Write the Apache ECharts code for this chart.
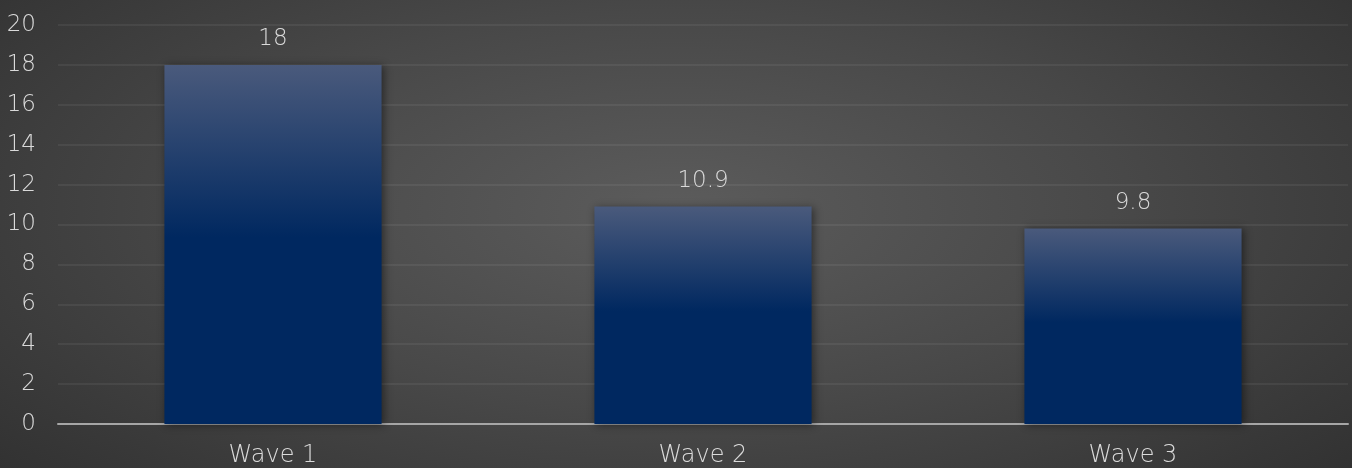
<!DOCTYPE html>
<html>
<head>
<meta charset="utf-8">
<script src="https://cdn.jsdelivr.net/npm/echarts@6/dist/echarts.min.js"></script>
<style>
  html, body { margin: 0; padding: 0; }
  #chart {
    width: 1352px;
    height: 468px;
    background: radial-gradient(ellipse 75% 95% at 50% 45%, #5c5c5c 0%, #484848 45%, #2c2c2c 100%);
  }
</style>
</head>
<body>
<div id="chart"></div>
<script>
const categories = ['Wave 1', 'Wave 2', 'Wave 3'];
const values = [18, 10.9, 9.8];

const FONT = '"DejaVu Sans", sans-serif';
const TEXT = '#dadada';

const chart = echarts.init(document.getElementById('chart'));
chart.setOption({
  backgroundColor: 'transparent',
  animation: false,
  grid: { top: 25, bottom: 43, left: 58, right: 4, containLabel: false },
  xAxis: {
    type: 'category',
    data: categories,
    axisLine: { lineStyle: { color: '#a6a6a6', width: 2 } },
    axisTick: { show: false },
    axisLabel: { fontSize: 24, color: TEXT, fontFamily: FONT, fontWeight: 300, margin: 20 },
  },
  yAxis: {
    type: 'value',
    min: 0,
    max: 20,
    interval: 2,
    axisLine: { show: false },
    axisTick: { show: false },
    axisLabel: { fontSize: 23, color: TEXT, fontFamily: FONT, fontWeight: 300, margin: 22 },
    splitLine: { lineStyle: { color: 'rgba(255,255,255,0.06)', width: 2 } },
  },
  series: [
    {
      type: 'bar',
      data: values,
      barWidth: '50.5%',
      itemStyle: {
        color: {
          type: 'linear', x: 0, y: 0, x2: 0, y2: 1,
          colorStops: [
            { offset: 0, color: '#4a5a7c' },
            { offset: 0.48, color: '#002860' },
            { offset: 1, color: '#002860' },
          ],
        },
        shadowBlur: 8,
        shadowColor: 'rgba(0,0,0,0.45)',
        shadowOffsetX: 2,
        shadowOffsetY: 1,
      },
      label: {
        show: true,
        position: 'top',
        distance: 14,
        fontSize: 23,
        color: TEXT,
        fontFamily: FONT,
        fontWeight: 300,
      },
    },
  ],
});
</script>
</body>
</html>
